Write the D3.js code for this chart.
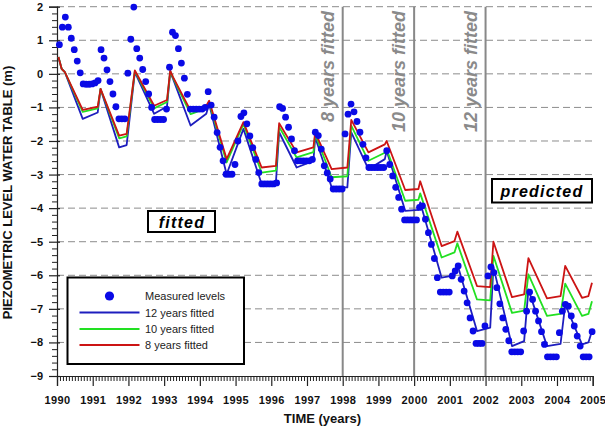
<!DOCTYPE html>
<html>
<head>
<meta charset="utf-8">
<script src="https://cdn.jsdelivr.net/npm/d3@7"></script>
<style>
  html, body { margin: 0; padding: 0; background: #fff; }
  svg { display: block; font-family: Arial, "Liberation Sans", sans-serif; }
</style>
</head>
<body>
<svg id="chart" width="605" height="426"></svg>
<script>
// ---------------- DATA ----------------
const yearTicks = [1990,1991,1992,1993,1994,1995,1996,1997,1998,1999,2000,2001,2002,2003,2004,2005];
const levelTicks = [2,1,0,-1,-2,-3,-4,-5,-6,-7,-8,-9];

// Measured levels, monthly from Jan 1990 (12 values per year)
const measuredLevels = [
  0.87, 1.39, 1.69, 1.39, 1.06, 0.72, 0.38, 0.03, -0.30, -0.31, -0.31, -0.30,      // 1990
  -0.27, -0.20, 0.72, 0.47, 0.12, -0.23, -0.60, -0.98, -1.34, -1.34, -1.34, 0.02,  // 1991
  1.03, 1.99, 0.75, 0.47, 0.13, -0.23, -0.60, -1.00, -1.36, -1.36, -1.36, -1.36,   // 1992
  -1.05, 0.20, 1.24, 1.14, 0.75, 0.32, -0.13, -0.61, -1.05, -1.05, -1.05, -1.05,   // 1993
  -1.05, -1.00, -0.53, -0.93, -1.29, -1.75, -2.19, -2.59, -2.99, -2.99, -2.99, -2.70, // 1994
  -2.00, -1.27, -1.16, -1.49, -1.85, -2.20, -2.55, -2.94, -3.28, -3.28, -3.28, -3.28, // 1995
  -3.28, -3.25, -0.98, -1.03, -1.29, -1.59, -1.94, -2.29, -2.59, -2.59, -2.59, -2.59, // 1996
  -2.59, -2.55, -1.74, -1.84, -2.24, -2.74, -2.95, -3.13, -3.43, -3.43, -3.43, -3.43, // 1997
  -1.79, -1.20, -0.90, -1.13, -1.42, -1.74, -2.10, -2.50, -2.79, -2.79, -2.79, -2.79, // 1998
  -2.79, -2.79, -2.29, -2.70, -3.04, -3.38, -3.68, -4.03, -4.35, -4.35, -4.35, -4.35, // 1999
  -4.35, -3.98, -3.93, -4.33, -4.73, -5.08, -5.50, -6.07, -6.50, -6.50, -6.50, -6.50, // 2000
  -6.02, -5.87, -5.72, -6.12, -6.47, -6.82, -7.27, -7.66, -8.03, -8.03, -8.03, -7.51, // 2001
  -6.02, -5.75, -5.92, -6.37, -6.85, -7.27, -7.61, -7.95, -8.28, -8.28, -8.28, -8.28, // 2002
  -7.66, -7.07, -6.50, -6.72, -7.07, -7.36, -7.68, -8.06, -8.43, -8.43, -8.43, -8.43, // 2003
  -7.71, -7.07, -6.87, -6.92, -7.21, -7.51, -7.81, -8.11, -8.43, -8.43, -8.43, -7.68  // 2004
];

// Fitted model curves (vertices)
const fitTimes = [1990.04,1990.13,1990.22,1990.72,1991.14,1991.22,1991.74,1991.95,1992.18,1992.72,
  1993.08,1993.17,1993.25,1993.74,1994.18,1994.26,1994.75,1995.22,1995.73,1996.13,
  1996.22,1996.71,1997.18,1997.23,1997.69,1998.13,1998.24,1998.72,1999.18,1999.23,
  1999.75,2000.12,2000.17,2000.77,2001.13,2001.21,2001.76,2002.13,2002.22,2002.74,
  2003.08,2003.20,2003.72,2004.10,2004.23,2004.70,2004.88,2004.98];
const fit8 = [0.5,0.15,0.05,-1.07,-0.98,-0.45,-1.84,-1.79,0.1,-0.95,
  -0.78,0.1,-0.1,-1.1,-0.95,-0.8,-2.54,-1.44,-2.79,-2.74,
  -1.47,-2.34,-2.19,-1.74,-2.84,-2.79,-1.37,-2.34,-2.1,-2.0,
  -3.46,-3.43,-3.2,-5.13,-4.98,-4.7,-6.32,-6.35,-5.0,-6.65,
  -6.57,-5.49,-6.69,-6.62,-5.72,-6.67,-6.62,-6.22];
const fit10 = [0.5,0.15,0.05,-1.13,-1.03,-0.45,-1.92,-1.86,0.08,-1.03,
  -0.84,0.08,-0.12,-1.2,-1.03,-0.85,-2.64,-1.5,-2.94,-2.88,
  -1.58,-2.49,-2.33,-1.8,-3.08,-3.05,-1.54,-2.59,-2.35,-2.24,
  -3.78,-3.75,-3.56,-5.47,-5.32,-5.05,-6.72,-6.75,-5.42,-7.12,
  -7.05,-5.97,-7.21,-7.15,-6.25,-7.21,-7.15,-6.77];
const fit12 = [0.5,0.15,0.05,-1.34,-1.15,-0.45,-2.19,-2.12,0.05,-1.19,
  -0.97,0.05,-0.15,-1.54,-1.19,-0.9,-2.99,-1.64,-3.28,-3.23,
  -1.74,-2.79,-2.59,-1.89,-3.38,-3.38,-1.74,-2.84,-2.54,-2.29,
  -4.08,-4.05,-3.83,-6.07,-6.0,-5.67,-7.66,-7.56,-5.75,-8.11,
  -7.96,-6.42,-8.11,-8.04,-6.87,-8.06,-8.0,-7.66];

const fitSeries = [
  { name: "12 years fitted", values: fit12, color: "#1e1ebe" },
  { name: "10 years fitted", values: fit10, color: "#22e022" },
  { name: "8 years fitted",  values: fit8,  color: "#cc1414" }
];
const calibrationYears = [1998, 2000, 2002];
const calibrationLabels = ["8 years fitted", "10 years fitted", "12 years fitted"];

// ---------------- CHART ----------------
const svg = d3.select("#chart");
const x = d3.scaleLinear().domain([1990, 2005]).range([57, 592.7]);
const y = d3.scaleLinear().domain([-9, 2]).range([376, 6.7]);
const dotColor = "#0a0ae6";
const gridColor = "#8c8c8c";

// grid lines
svg.append("g").selectAll("line")
  .data(levelTicks.filter(d => d > -9))
  .join("line")
  .attr("x1", x(1990)).attr("x2", x(2005))
  .attr("y1", d => y(d)).attr("y2", d => y(d))
  .attr("stroke", gridColor).attr("stroke-width", 1)
  .attr("stroke-dasharray", "7,4");

// calibration vertical lines
svg.append("g").selectAll("line")
  .data(calibrationYears)
  .join("line")
  .attr("x1", d => x(d)).attr("x2", d => x(d))
  .attr("y1", y(2)).attr("y2", y(-9))
  .attr("stroke", "#888").attr("stroke-width", 2);

svg.append("g").selectAll("text")
  .data(calibrationYears)
  .join("text")
  .attr("transform", d => `translate(${x(d) - 9},${11}) rotate(-90)`)
  .attr("text-anchor", "end")
  .attr("font-size", 18).attr("font-weight", "bold").attr("font-style", "italic")
  .attr("fill", "#8a8a8a")
  .text((d, i) => calibrationLabels[i]);

// axes
const xAxis = d3.axisBottom(x).tickValues(yearTicks).tickFormat(d3.format("d"))
  .tickSize(10).tickPadding(10);
const monthTicks = d3.range(1990, 2005 + 1e-9, 1 / 12).filter(t => Math.abs(t - Math.round(t)) > 1e-6);
const xMinor = d3.axisBottom(x).tickValues(monthTicks).tickFormat("").tickSize(5);

const gxm = svg.append("g").attr("transform", `translate(0,${y(-9)})`).call(xMinor);
gxm.select(".domain").remove();
gxm.selectAll("line").attr("stroke", "#222");

const gx = svg.append("g").attr("transform", `translate(0,${y(-9)})`).call(xAxis);
gx.select(".domain").attr("stroke", "#222").attr("stroke-width", 1.2);
gx.selectAll(".tick line").attr("stroke", "#222").attr("stroke-width", 1.2);
gx.selectAll("text").attr("font-size", 11).attr("font-weight", "bold")
  .attr("fill", "#111").attr("font-family", "Arial, 'Liberation Sans', sans-serif")
  .attr("letter-spacing", "0.4px");

const levelMinor = d3.range(-9, 2.001, 0.2).filter(v => Math.abs(v - Math.round(v)) > 1e-6);
const yMinor = d3.axisLeft(y).tickValues(levelMinor).tickFormat("").tickSize(5);
const gym = svg.append("g").attr("transform", `translate(${x(1990)},0)`).call(yMinor);
gym.select(".domain").remove();
gym.selectAll("line").attr("stroke", "#222");

const yAxis = d3.axisLeft(y).tickValues(levelTicks).tickFormat(d3.format("d"))
  .tickSize(8).tickPadding(6);
const gy = svg.append("g").attr("transform", `translate(${x(1990)},0)`).call(yAxis);
gy.select(".domain").attr("stroke", "#222").attr("stroke-width", 1.2);
gy.selectAll(".tick line").attr("x1", 3).attr("stroke", "#222").attr("stroke-width", 1.2);
gy.selectAll("text").attr("font-size", 11).attr("font-weight", "bold")
  .attr("fill", "#111").attr("font-family", "Arial, 'Liberation Sans', sans-serif");

// axis titles
svg.append("text")
  .attr("x", 322.5).attr("y", 423)
  .attr("text-anchor", "middle")
  .attr("font-size", 13).attr("font-weight", "bold").attr("fill", "#111")
  .text("TIME (years)");

svg.append("text")
  .attr("transform", "translate(12,192.5) rotate(-90)")
  .attr("text-anchor", "middle")
  .attr("font-size", 13).attr("font-weight", "bold").attr("fill", "#111")
  .text("PIEZOMETRIC LEVEL WATER TABLE (m)");

// fitted lines
const line = d3.line().x(d => x(d[0])).y(d => y(d[1]));
svg.append("g").selectAll("path")
  .data(fitSeries)
  .join("path")
  .attr("d", s => line(fitTimes.map((t, i) => [t, s.values[i]])))
  .attr("fill", "none")
  .attr("stroke", s => s.color)
  .attr("stroke-width", 1.8)
  .attr("stroke-linejoin", "round");

// measured points
svg.append("g").selectAll("circle")
  .data(measuredLevels.map((v, i) => [1990 + (i + 0.8) / 12, v]))
  .join("circle")
  .attr("cx", d => x(d[0])).attr("cy", d => y(d[1]))
  .attr("r", 3.4)
  .attr("fill", dotColor);

// "fitted" and "predicted" boxes
function labelBox(x0, y0, w, h, label, cx, baseline) {
  svg.append("rect").attr("x", x0).attr("y", y0).attr("width", w).attr("height", h)
    .attr("fill", "#fff").attr("stroke", "#000").attr("stroke-width", 2);
  svg.append("text").attr("x", cx).attr("y", baseline)
    .attr("text-anchor", "middle")
    .attr("font-size", 16).attr("font-weight", "bold").attr("font-style", "italic")
    .attr("letter-spacing", "1.2px")
    .attr("fill", "#000").text(label);
}
labelBox(148, 211, 67, 21, "fitted", 182, 227.5);
labelBox(492, 179, 100, 23.5, "predicted", 542, 196.5);

// legend
const lg = svg.append("g");
lg.append("rect").attr("x", 67.5).attr("y", 277.5).attr("width", 176.5).attr("height", 86.5)
  .attr("fill", "#fff").attr("stroke", "#000").attr("stroke-width", 2);
lg.append("circle").attr("cx", 109.5).attr("cy", 296).attr("r", 4.6).attr("fill", dotColor);
lg.append("text").attr("x", 145).attr("y", 300).attr("font-size", 11).attr("fill", "#222")
  .text("Measured levels");
const legendRows = [312.5, 329, 345];
fitSeries.forEach((s, i) => {
  lg.append("line").attr("x1", 79.5).attr("x2", 139.5)
    .attr("y1", legendRows[i]).attr("y2", legendRows[i])
    .attr("stroke", s.color).attr("stroke-width", 1.8);
  lg.append("text").attr("x", 145).attr("y", legendRows[i] + 4).attr("font-size", 11).attr("fill", "#222")
    .text(s.name);
});
</script>
</body>
</html>
